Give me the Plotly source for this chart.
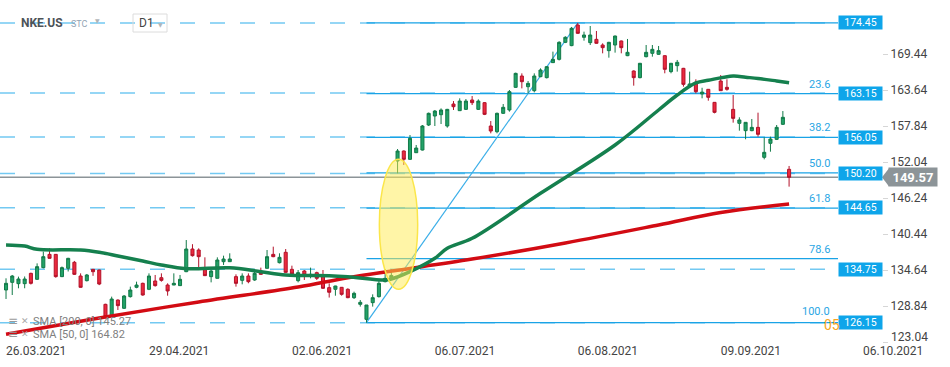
import plotly.graph_objects as go
import pandas as pd
from pandas.tseries.offsets import CustomBusinessDay

FIG_W, FIG_H = 950, 367
MARGIN_B = 25
PLOT_H = FIG_H - MARGIN_B
PLOT_RIGHT_PX = 838
FONT = "Roboto"

# ---------------- data ----------------
symbol = "NKE.US"
source = "STC"
interval = "D1"

holidays = ["2021-04-02", "2021-05-31", "2021-07-05", "2021-09-06"]
trading_days = pd.date_range("2021-03-26", "2021-10-06", freq=CustomBusinessDay(holidays=holidays))

opens = [131.42, 132.65, 132.44, 132.44, 134.10, 133.14, 135.02, 137.16, 137.16, 133.57,
         134.91, 135.88, 133.67, 132.92, 134.75, 134.64, 129.11, 127.28, 129.80, 128.47,
         130.35, 131.85, 132.49, 131.53, 132.87, 133.40, 132.22, 132.22, 132.12, 134.37,
         138.02, 137.86, 135.02, 133.57, 133.30, 135.98, 135.98, 133.57, 132.97, 133.67,
         133.03, 134.48, 134.91, 137.16, 135.82, 137.49, 134.75, 132.92, 134.48, 133.73,
         134.21, 133.57, 131.80, 131.53, 131.85, 131.53, 130.18, 129.11, 126.69, 129.38,
         130.35, 132.76, 133.40, 152.20, 153.81, 152.47, 153.54, 153.97, 158.00, 159.45,
         159.66, 157.84, 161.38, 160.31, 160.52, 162.03, 160.52, 161.60, 157.84, 156.92,
         159.88, 160.42, 164.07, 165.89, 164.17, 163.53, 165.79, 165.63, 168.05, 168.58,
         171.32, 170.79, 174.11, 172.13, 171.27, 171.80, 170.89, 169.98, 170.89, 171.54,
         169.17, 166.70, 165.63, 169.01, 169.55, 169.39, 169.17, 166.60, 167.56, 167.13,
         164.17, 164.87, 163.00, 163.75, 161.65, 165.09, 164.07, 160.52, 158.27, 157.09,
         157.09, 157.62, 152.79, 155.05, 155.69, 158.11, 150.86]
highs = [133.30, 133.84, 133.57, 133.60, 134.20, 135.71, 137.60, 138.13, 137.20, 135.20,
         136.60, 136.10, 134.10, 134.00, 134.80, 134.70, 129.20, 130.35, 129.90, 130.60,
         131.96, 132.76, 132.60, 134.10, 133.84, 134.10, 132.49, 134.10, 133.84, 139.47,
         138.80, 138.13, 136.68, 134.64, 136.68, 136.95, 137.33, 133.94, 134.10, 134.10,
         134.37, 135.02, 137.86, 138.40, 137.33, 138.02, 135.34, 134.64, 134.64, 135.02,
         134.37, 134.64, 132.49, 132.10, 131.90, 131.69, 131.15, 129.80, 129.00, 130.72,
         133.03, 134.80, 134.75, 154.13, 153.90, 156.39, 154.78, 158.00, 160.00, 160.42,
         160.68, 160.60, 161.86, 162.30, 162.19, 162.67, 162.13, 161.70, 158.64, 160.00,
         161.38, 163.64, 166.43, 166.32, 165.09, 166.32, 167.13, 167.50, 169.82, 171.50,
         172.30, 173.80, 174.45, 173.04, 173.95, 173.15, 171.16, 171.40, 172.40, 171.60,
         171.86, 166.80, 168.00, 170.89, 170.89, 170.73, 169.20, 168.00, 168.48, 167.20,
         166.60, 165.36, 164.00, 163.80, 161.70, 166.05, 165.36, 162.83, 159.24, 158.43,
         158.97, 159.99, 156.01, 156.12, 158.00, 160.25, 151.40]
lows = [129.97, 130.61, 131.69, 131.70, 132.30, 133.03, 134.90, 136.50, 133.40, 133.50,
        134.40, 133.84, 131.80, 132.80, 133.70, 132.20, 126.85, 127.12, 128.20, 128.36,
        130.20, 131.70, 130.50, 131.40, 131.96, 132.76, 130.50, 132.20, 132.06, 134.30,
        136.80, 134.90, 133.70, 132.65, 133.30, 135.45, 135.98, 131.96, 132.33, 132.50,
        132.90, 133.90, 134.90, 136.70, 135.70, 134.20, 133.84, 132.65, 133.03, 133.30,
        133.03, 131.60, 130.20, 130.50, 130.50, 130.10, 129.97, 128.74, 126.15, 128.74,
        130.20, 132.65, 133.30, 150.22, 151.56, 152.40, 153.50, 153.90, 157.84, 157.84,
        158.16, 157.57, 160.42, 160.30, 160.42, 161.22, 160.42, 159.60, 156.66, 156.66,
        159.80, 160.15, 164.00, 163.90, 163.10, 163.26, 165.70, 165.50, 168.00, 168.40,
        171.20, 170.70, 172.70, 171.59, 170.89, 171.10, 169.55, 168.85, 169.66, 169.55,
        169.10, 164.34, 165.52, 168.90, 169.01, 169.30, 166.33, 166.33, 166.60, 164.18,
        164.10, 163.10, 162.30, 161.92, 159.88, 163.50, 163.53, 158.38, 157.09, 155.70,
        157.00, 156.12, 152.47, 153.70, 155.58, 158.00, 148.07]
closes = [132.49, 133.67, 133.19, 133.19, 132.49, 135.18, 136.79, 136.52, 133.57, 135.02,
          136.52, 133.94, 131.85, 133.84, 134.37, 132.38, 127.12, 129.97, 128.90, 130.45,
          131.42, 132.22, 130.61, 133.67, 132.12, 132.97, 131.26, 132.49, 133.14, 138.02,
          136.95, 136.79, 133.73, 134.48, 136.25, 136.41, 136.41, 132.49, 133.67, 132.76,
          134.10, 133.94, 136.79, 136.79, 136.68, 134.26, 134.00, 134.21, 133.84, 133.94,
          133.30, 131.69, 131.05, 132.06, 130.72, 130.18, 130.88, 129.43, 129.00, 130.18,
          132.49, 133.30, 133.76, 153.81, 152.47, 155.85, 154.29, 157.84, 159.88, 160.25,
          160.42, 160.52, 160.95, 161.86, 161.86, 161.60, 161.86, 159.72, 157.03, 159.88,
          160.85, 163.37, 166.32, 164.98, 164.71, 165.89, 166.86, 167.40, 168.58, 171.32,
          172.13, 173.58, 172.77, 172.50, 172.50, 171.16, 170.46, 171.32, 172.34, 170.46,
          169.71, 165.63, 167.94, 169.71, 170.19, 169.98, 166.97, 167.94, 168.10, 164.55,
          164.61, 163.37, 163.30, 162.46, 160.04, 163.53, 163.75, 159.07, 158.81, 158.43,
          157.62, 156.50, 153.60, 155.74, 157.62, 159.24, 149.57]

# moving averages (candle position, value)
sma50_pos = [0, 3, 5, 12, 15, 18, 22, 25, 29, 36, 41, 45, 52, 55, 61, 62, 65, 69, 71, 75,
             86, 98, 105, 108, 111, 113, 117, 119, 121, 124, 126]
sma50_val = [138.67, 138.50, 137.97, 137.86, 137.49, 136.90, 136.09, 135.45, 134.85, 135.00,
             134.37, 133.84, 133.73, 133.56, 133.03, 133.19, 134.37, 136.52, 138.13, 139.75,
             147.00, 154.78, 160.42, 162.83, 164.77, 165.20, 165.90, 165.70, 165.50, 165.10, 164.82]
sma200_pos = [0, 15, 31, 47, 55, 63, 75, 90, 105, 115, 126]
sma200_val = [124.30, 126.90, 129.50, 131.90, 133.40, 134.60, 136.40, 139.00, 141.90, 143.90, 145.27]
sma_legend = ["SMA [200, 0] 145.27", "SMA [50, 0] 164.82"]

x_tick_dates = ["2021-03-26", "2021-04-29", "2021-06-02", "2021-07-06",
                "2021-08-06", "2021-09-09", "2021-10-06"]
y_tick_vals = [123.04, 128.84, 134.64, 140.44, 146.24, 152.04, 157.84, 163.64, 169.44]

price_levels = [174.45, 163.15, 156.05, 150.20, 144.65, 134.75, 126.15]
fib_high, fib_low = 174.45, 126.15
fib_low_date, fib_high_date = "2021-06-18", "2021-08-06"
fib_ratios = [0.0, 23.6, 38.2, 50.0, 61.8, 78.6, 100.0]
last_price = 149.57

# highlighted gap (dates span / price span)
gap_x = [60.07, 66.24]
gap_y = [131.53, 152.47]

# ---------------- helpers ----------------
Y_RANGE = [123.04, 178.14]
X_RANGE = [-0.97, 133.87]


def pos(d):
    return int(trading_days.get_loc(pd.Timestamp(d)))


def px_x(p):
    return p / FIG_W


def px_y(p):
    return 1 - p / PLOT_H


n = len(opens)
x_idx = list(range(n))

BLUE = "#1aa3e6"
BLUE_DASH = "#73c9f2"
GREY = "#8c9498"

fig = go.Figure()

fig.add_trace(go.Candlestick(
    x=x_idx, open=opens, high=highs, low=lows, close=closes,
    increasing=dict(line=dict(color="#127a48", width=1), fillcolor="#22a268"),
    decreasing=dict(line=dict(color="#b3122a", width=1), fillcolor="#ea2a3e"),
    whiskerwidth=0, showlegend=False, hoverinfo="skip",
))
fig.add_trace(go.Scatter(x=sma200_pos, y=sma200_val, mode="lines",
                         line=dict(color="#d20b13", width=3.5, shape="spline"),
                         showlegend=False, hoverinfo="skip"))
fig.add_trace(go.Scatter(x=sma50_pos, y=sma50_val, mode="lines",
                         line=dict(color="#15804e", width=3.5, shape="spline"),
                         showlegend=False, hoverinfo="skip"))

shapes = []
# dashed price levels across the full width
for lv in price_levels:
    shapes.append(dict(type="line", xref="paper", yref="y", x0=0, x1=px_x(PLOT_RIGHT_PX),
                       y0=lv, y1=lv, line=dict(color=BLUE_DASH, width=1.5, dash="15px,15px"),
                       layer="below"))
# fibonacci levels
fib_levels = [fib_high - r / 100.0 * (fib_high - fib_low) for r in fib_ratios]
x_fib0 = pos(fib_low_date)
x_fib1 = pos(fib_high_date)
for lv in fib_levels:
    shapes.append(dict(type="line", xref="x", yref="y", x0=x_fib0, x1=X_RANGE[1],
                       y0=lv, y1=lv, line=dict(color=BLUE, width=1.3), layer="below"))
shapes.append(dict(type="line", xref="x", yref="y", x0=x_fib0, x1=x_fib1,
                   y0=fib_low, y1=fib_high, line=dict(color="#3aaee8", width=1.2), layer="below"))
# last price line
shapes.append(dict(type="line", xref="paper", yref="y", x0=0, x1=px_x(PLOT_RIGHT_PX),
                   y0=last_price, y1=last_price, line=dict(color=GREY, width=1.5), layer="below"))
# gap ellipse
shapes.append(dict(type="circle", xref="x", yref="y", x0=gap_x[0], x1=gap_x[1],
                   y0=gap_y[0], y1=gap_y[1], fillcolor="rgba(255,236,80,0.5)",
                   line=dict(color="#fbe64a", width=1.5), layer="above"))
# last price box notch
ppu = PLOT_H / (Y_RANGE[1] - Y_RANGE[0])
hh = 9.2 / ppu
shapes.append(dict(type="path", xref="paper", yref="y",
                   path=f"M {px_x(882)},{last_price} L {px_x(889)},{last_price + hh} "
                        f"L {px_x(889)},{last_price - hh} Z",
                   fillcolor=GREY, line=dict(width=0), layer="above"))
# interval selector box
shapes.append(dict(type="rect", xref="paper", yref="paper", x0=px_x(133), x1=px_x(167),
                   y0=px_y(32), y1=px_y(14), line=dict(color="#dcdcdc", width=1),
                   fillcolor="rgba(255,255,255,0)"))

ann = []
# header
ann.append(dict(text=f"<b>{symbol}</b>", x=px_x(19), y=px_y(23), xref="paper", yref="paper",
                xanchor="left", yanchor="middle", showarrow=False,
                font=dict(family=FONT, size=12, color="#4d5358")))
ann.append(dict(text=source, x=px_x(69), y=px_y(24), xref="paper", yref="paper",
                xanchor="left", yanchor="middle", showarrow=False,
                font=dict(family=FONT, size=9, color="#93a3b3")))
ann.append(dict(text="▼", x=px_x(93), y=px_y(21), xref="paper", yref="paper",
                xanchor="left", yanchor="middle", showarrow=False,
                font=dict(family="DejaVu Sans", size=6, color="#b0b4b8")))
ann.append(dict(text=interval, x=px_x(137), y=px_y(23), xref="paper", yref="paper",
                xanchor="left", yanchor="middle", showarrow=False,
                font=dict(family=FONT, size=12, color="#444")))
ann.append(dict(text="▼", x=px_x(156), y=px_y(24), xref="paper", yref="paper",
                xanchor="left", yanchor="middle", showarrow=False,
                font=dict(family="DejaVu Sans", size=6, color="#b0b4b8")))
# price level boxes
for lv in price_levels:
    ann.append(dict(text=f"{lv:.2f}", x=px_x(860.5), y=lv, xref="paper", yref="y",
                    xanchor="center", yanchor="middle", showarrow=False,
                    bgcolor="#0ea5ea", width=43, height=13, borderpad=0,
                    font=dict(family=FONT, size=10.5, color="white")))
# fib labels
for r, lv in zip(fib_ratios, fib_levels):
    if r == 0:
        continue
    ann.append(dict(text=f"{r:.1f}", x=px_x(832), y=lv, xref="paper", yref="y",
                    xanchor="right", yanchor="middle", yshift=11 if r == 100.0 else 9.5,
                    showarrow=False, font=dict(family=FONT, size=11, color="#2aa6e4")))
ann.append(dict(text="05", x=px_x(822), y=fib_low, xref="paper", yref="y",
                xanchor="left", yanchor="middle", yshift=-2, showarrow=False,
                font=dict(family=FONT, size=14, color="#f6a623")))
# last price box
ann.append(dict(text=f"<b>{last_price:.2f}</b>", x=px_x(913), y=last_price, xref="paper", yref="y",
                xanchor="center", yanchor="middle", showarrow=False,
                bgcolor=GREY, width=48, height=18, borderpad=0,
                font=dict(family=FONT, size=13, color="white")))
# lowest y label sits slightly raised above the date row
ann.append(dict(text=f"{y_tick_vals[0]:.2f}", x=px_x(889), y=y_tick_vals[0], xref="paper", yref="y",
                xanchor="left", yanchor="middle", yshift=5, showarrow=False,
                font=dict(family=FONT, size=12, color="#444")))
# legend rows
for i, txt in enumerate(sma_legend):
    yy = px_y(321 + 13 * i)
    ann.append(dict(text="≡", x=px_x(6), y=yy, xref="paper", yref="paper", xanchor="left",
                    yanchor="middle", showarrow=False,
                    font=dict(family="DejaVu Sans", size=12, color="#9a9a9a")))
    ann.append(dict(text="✕", x=px_x(19), y=yy, xref="paper", yref="paper", xanchor="left",
                    yanchor="middle", showarrow=False,
                    font=dict(family="DejaVu Sans", size=9, color="#a8a8a8")))
    ann.append(dict(text=txt, x=px_x(31), y=yy, xref="paper", yref="paper", xanchor="left",
                    yanchor="middle", showarrow=False,
                    font=dict(family=FONT, size=11, color="#808080")))
# last date label (right-aligned under the axis labels)
ann.append(dict(text=pd.Timestamp(x_tick_dates[-1]).strftime("%d.%m.%Y"), x=px_x(925),
                y=px_y(351), xref="paper", yref="paper", xanchor="right", yanchor="middle",
                showarrow=False, font=dict(family=FONT, size=12, color="#444")))

tick_pos = [pos(d) for d in x_tick_dates[:-1]]
tick_txt = [pd.Timestamp(d).strftime("%d.%m.%Y") for d in x_tick_dates[:-1]]
y_tick_txt = [""] + [f"{v:.2f}" for v in y_tick_vals[1:]]

fig.update_layout(
    width=FIG_W, height=FIG_H,
    margin=dict(l=0, r=0, t=0, b=MARGIN_B),
    paper_bgcolor="white", plot_bgcolor="white",
    font=dict(family=FONT),
    showlegend=False,
    shapes=shapes, annotations=ann,
    xaxis=dict(domain=[0, px_x(PLOT_RIGHT_PX)], range=X_RANGE, tickvals=tick_pos, ticktext=tick_txt,
               ticklabelposition="outside right", ticks="", showgrid=False, zeroline=False,
               showline=False, rangeslider=dict(visible=False),
               tickfont=dict(family=FONT, size=12, color="#444")),
    yaxis=dict(range=Y_RANGE, side="right", anchor="free", position=px_x(882),
               tickvals=y_tick_vals, ticktext=y_tick_txt,
               ticks="outside", ticklen=5, tickcolor="#d6d6d6", showgrid=False, zeroline=False,
               showline=False, tickfont=dict(family=FONT, size=12, color="#444")),
)

fig.write_html("out.html", config={"displayModeBar": False},
               post_script="document.body.style.margin='0px';document.body.style.overflow='hidden';")
